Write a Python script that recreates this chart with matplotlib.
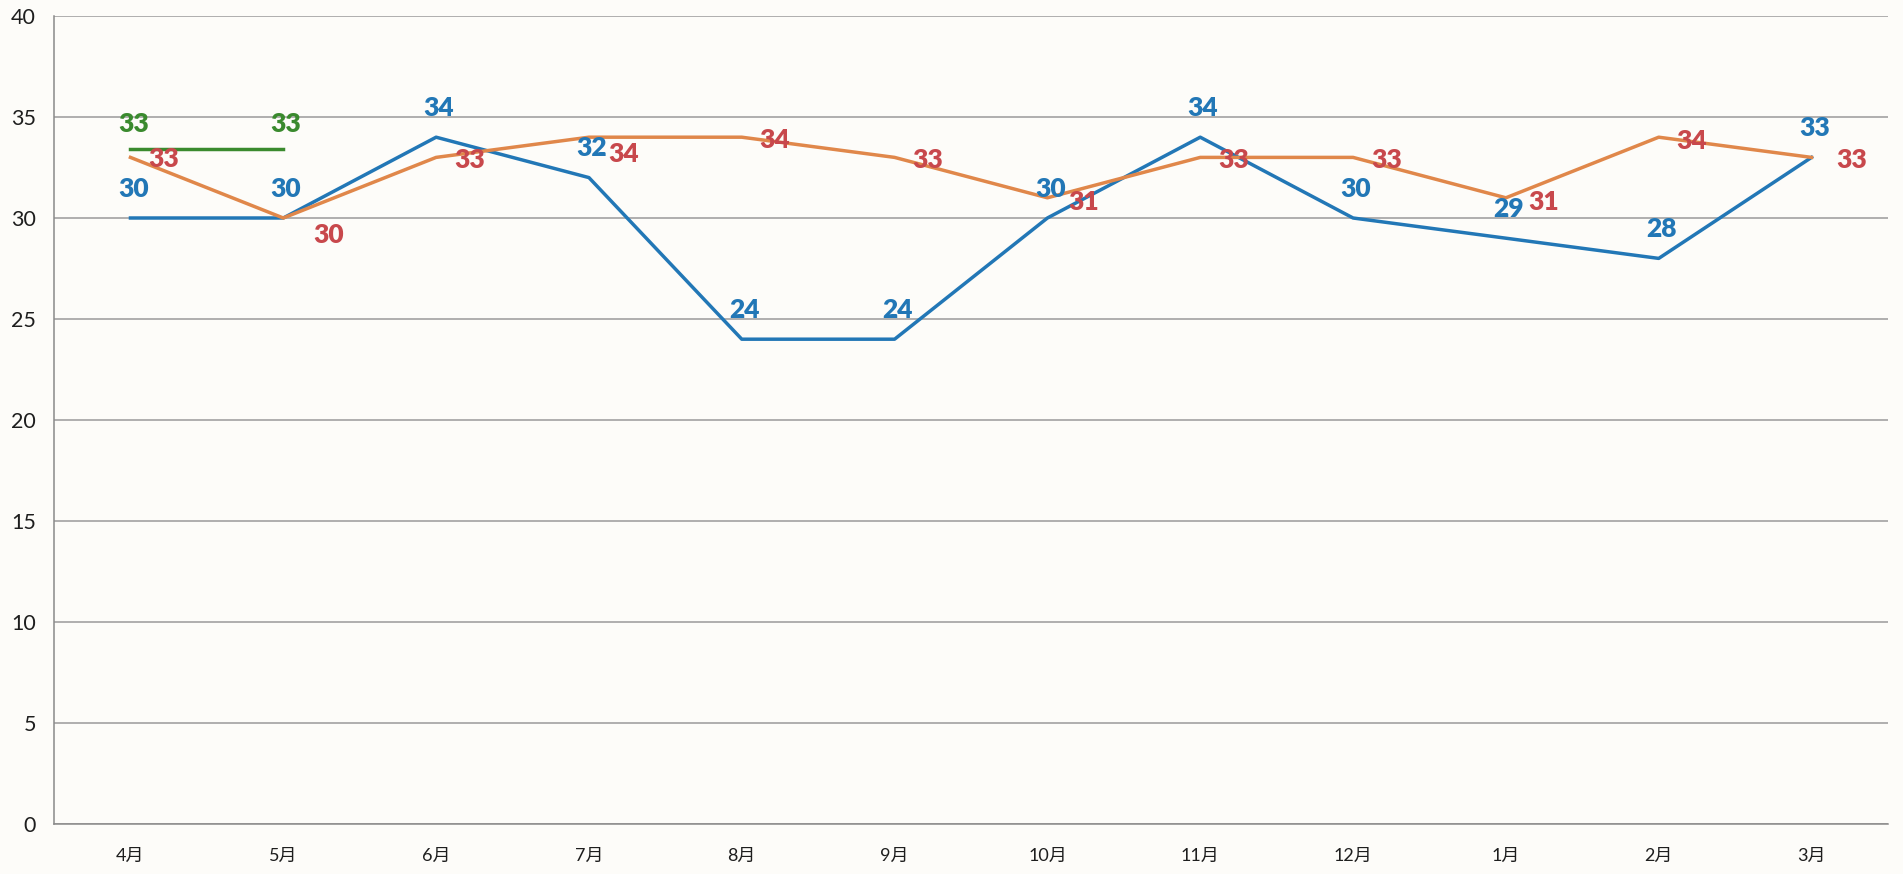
import matplotlib
matplotlib.use("Agg")
import matplotlib.pyplot as plt
import numpy as np

plt.rcParams["font.family"] = ["Lato", "Noto Sans CJK JP", "DejaVu Sans"]

# monthly values, fiscal year April -> March
months = ["4月", "5月", "6月", "7月", "8月", "9月", "10月", "11月", "12月", "1月", "2月", "3月"]
blue_vals = [30, 30, 34, 32, 24, 24, 30, 34, 30, 29, 28, 33]
orange_vals = [33, 30, 33, 34, 34, 33, 31, 33, 33, 31, 34, 33]
green_vals = [33.4, 33.4]  # only two months recorded

# label offsets in points (dx, dy)
orange_offsets = [(24, -1), (33, -12), (24, -2), (25, -12), (24, -2), (24, -2),
                  (26, -3), (24, -2), (24, -2), (27, -3), (24, -3), (29, -2)]

BLUE = "#2277b6"
ORANGE = "#e0874a"
ORANGE_TXT = "#c8484c"
GREEN = "#3a8a2e"
BG = "#fdfcf9"

x = np.arange(len(months))

fig = plt.figure(figsize=(19.03, 8.74), dpi=100, facecolor=BG)
ax = fig.add_axes([0.0284, 0.0572, 0.9637, 0.9245], facecolor=BG)

ax.plot(x, blue_vals, color=BLUE, lw=2.5, zorder=3)
ax.plot(x, orange_vals, color=ORANGE, lw=2.5, zorder=3)
ax.plot(x[:len(green_vals)], green_vals, color=GREEN, lw=2.5, zorder=3)

lab = dict(ha="center", va="center", fontsize=19, fontweight="heavy",
           textcoords="offset points")
for xi, v in zip(x, blue_vals):
    ax.annotate(f"{v:.0f}", (xi, v), xytext=(2, 21), color=BLUE, **lab)
for xi, v, (dx, dy) in zip(x, orange_vals, orange_offsets):
    ax.annotate(f"{v:.0f}", (xi, v), xytext=(dx, dy), color=ORANGE_TXT, **lab)
for xi, v in zip(x, green_vals):
    ax.annotate(f"{v:.0f}", (xi, v), xytext=(2, 18), color=GREEN, **lab)

ax.set_xlim(-0.5, len(months) - 0.5)
ax.set_ylim(0, 40)
ax.set_yticks(range(0, 41, 5))
ax.set_xticks(x)
ax.set_xticklabels(months)
ax.tick_params(axis="y", length=0, pad=13, labelsize=15.5, labelcolor="#1e1e1e")
ax.tick_params(axis="x", length=0, pad=17, labelsize=13, labelcolor="#1e1e1e")

ax.grid(axis="y", color="#9a9a9a", lw=1.1)
ax.set_axisbelow(True)
for s in ["top", "right"]:
    ax.spines[s].set_visible(False)
ax.spines["left"].set_color("#8a8a8a")
ax.spines["bottom"].set_color("#8a8a8a")
ax.spines["left"].set_linewidth(1.1)
ax.spines["bottom"].set_linewidth(1.1)

fig.savefig("out.png", dpi=100, facecolor=BG)
